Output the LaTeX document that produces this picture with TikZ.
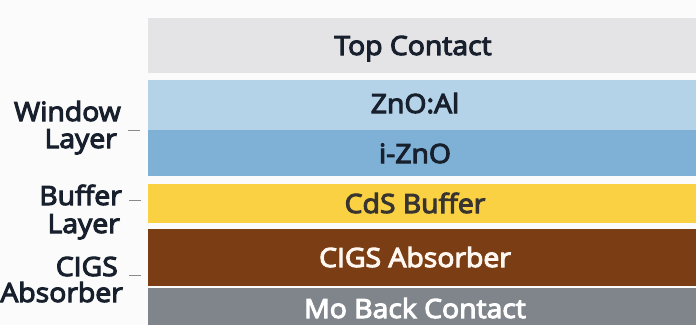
\documentclass[tikz,border=0pt]{standalone}
\usepackage{fontspec}
\setmainfont{Open Sans}
\newfontfamily\semibfont{Open Sans}[FakeBold=4,FakeStretch=1.07]
\definecolor{bg}{HTML}{FBFBFB}
\definecolor{topc}{HTML}{E4E3E6}
\definecolor{znoal}{HTML}{B4D2E8}
\definecolor{izno}{HTML}{7FB0D6}
\definecolor{cds}{HTML}{FBD144}
\definecolor{cigs}{HTML}{7A3D14}
\definecolor{moc}{HTML}{80858B}
\definecolor{ink}{HTML}{17202C}
\definecolor{tickc}{HTML}{8A8A8A}
\begin{document}
\begin{tikzpicture}[x=1pt,y=-1pt,
  layer/.style={draw=none,rectangle,anchor=north west,inner sep=0pt,minimum width=548pt},
  ltext/.style={anchor=base,inner sep=0pt,font=\fontsize{26.5}{26.5}\semibfont},
  side/.style={anchor=base east,inner sep=0pt,font=\fontsize{26.5}{26.5}\semibfont,text=ink},
  tickline/.style={draw=tickc,line width=1pt}]
\useasboundingbox[fill=bg] (0,0) rectangle (696,325);
% layers
\node[layer,fill=topc,minimum height=55pt] (top) at (148,18) {};
\node[layer,fill=znoal,minimum height=50pt] (zal) at (148,80) {};
\node[layer,fill=izno,minimum height=46pt] (iz) at (148,130) {};
\node[layer,fill=cds,minimum height=39pt] (cd) at (148,184) {};
\node[layer,fill=cigs,minimum height=57pt] (ci) at (148,229) {};
\node[layer,fill=moc,minimum height=37pt] (mo) at (148,288) {};
% layer texts
\node[ltext,text=ink] (tTop) at (413,55) {Top Contact};
\node[ltext,text=ink] (tZal) at (415,113) {ZnO:Al};
\node[ltext,text=ink] (tIz) at (415,163) {i-ZnO};
\node[ltext,text=black!90!yellow] (tCd) at (415,213) {CdS Buffer};
\node[ltext,text=white!94!orange] (tCi) at (415,267) {CIGS Absorber};
\node[ltext,text=white] (tMo) at (415,318) {Mo Back Contact};
% side labels
\node[side] (wA) at (121,121) {Window};
\node[side] (wB) at (117,148) {Layer};
\node[side] (bA) at (122,205) {Buffer};
\node[side] (bB) at (120,233) {Layer};
\node[side] (cA) at (118,276) {CIGS};
\node[side] (cB) at (123,302) {Absorber};
% ticks
\coordinate (w1) at (128,130); \coordinate (w2) at (140,130);
\coordinate (b1) at (129,200); \coordinate (b2) at (141,200);
\coordinate (c1) at (129,275); \coordinate (c2) at (141,275);
\draw[tickline] (w1) -- (w2);
\draw[tickline] (b1) -- (b2);
\draw[tickline] (c1) -- (c2);
\end{tikzpicture}
\end{document}
